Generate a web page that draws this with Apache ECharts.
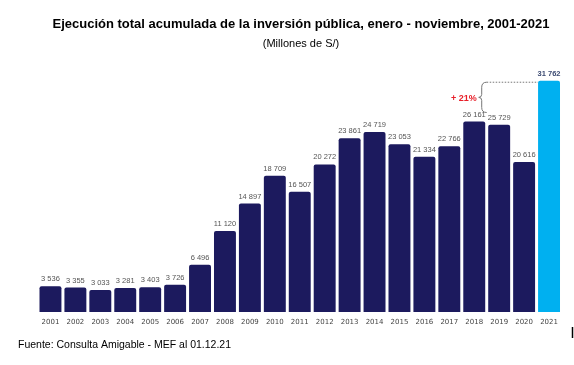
<!DOCTYPE html>
<html><head><meta charset="utf-8">
<script src="https://cdn.jsdelivr.net/npm/echarts@6/dist/echarts.min.js"></script>
<style>html,body{margin:0;padding:0;background:#fff}#c{width:574px;height:365px}</style>
</head><body><div id="c"></div>
<script>
const years = ['2001','2002','2003','2004','2005','2006','2007','2008','2009','2010','2011','2012','2013','2014','2015','2016','2017','2018','2019','2020','2021'];
const values = [3536,3355,3033,3281,3403,3726,6496,11120,14897,18709,16507,20272,23861,24719,23053,21334,22766,26161,25729,20616,31762];
const titleText = 'Ejecución total acumulada de la inversión pública, enero - noviembre, 2001-2021';
const subtitleText = '(Millones de S/)';
const sourceText = 'Fuente: Consulta Amigable - MEF al 01.12.21';
const growthText = '+ 21%';

const fmt = v => String(v).replace(/\B(?=(\d{3})+(?!\d))/g, ' ');
const chart = echarts.init(document.getElementById('c'), null, {renderer:'canvas'});
const data = values.map((v,i) => ({
  value: v,
  itemStyle: {color: i === values.length-1 ? '#00b0f0' : '#1c1a5e'},
  label: i === values.length-1 ? {color:'#3b4a72', fontWeight:'bold'} : undefined
}));
chart.setOption({
  animation:false,
  title:[
    {text:titleText, left:296, top:13, textAlign:'center', textStyle:{fontFamily:'Liberation Sans', fontSize:13, fontWeight:'bold', color:'#000'}},
    {text:subtitleText, left:296, top:33, textAlign:'center', textStyle:{fontFamily:'Liberation Sans', fontSize:11, fontWeight:'normal', color:'#000'}}
  ],
  grid:{left:38, right:12.5, top:79, bottom:53, containLabel:false},
  xAxis:{type:'category', data:years,
    axisLine:{show:false}, axisTick:{show:false},
    axisLabel:{fontFamily:'DejaVu Sans', fontSize:7, color:'#444', margin:7, interval:0}},
  yAxis:{type:'value', min:0, max:32000, show:false, splitLine:{show:false}},
  series:[{type:'bar', data, barCategoryGap:'12%',
    itemStyle:{borderRadius:[2,2,0,0]},
    label:{show:true, position:'top', distance:3, formatter:p=>fmt(p.value), fontFamily:'Liberation Sans', fontSize:7.5, color:'#555'}}]
});

const last = values.length-1;
const pTop = chart.convertToPixel({xAxisIndex:0,yAxisIndex:0},[last, values[last]]);
const p18 = chart.convertToPixel({xAxisIndex:0,yAxisIndex:0},[17, values[17]]);
const p19 = chart.convertToPixel({xAxisIndex:0,yAxisIndex:0},[18, values[18]]);
const catW = p19[0]-p18[0];
const bx = p18[0] + catW*0.5;   // brace x
const y0 = pTop[1] + 1.5;
const y1 = p18[1] - 9;
const ym = (y0+y1)/2;
const xs = bx - 5;
const tip = bx - 8;
const barLeft = pTop[0] - catW*0.44;
const st = {stroke:'#777', lineWidth:1, fill:null};
function q(x1,y1,cx,cy,x2,y2){return {type:'bezierCurve', shape:{x1,y1,x2,y2,cpx1:cx,cpy1:cy}, style:st};}
chart.setOption({graphic:[
  q(bx,y0, xs,y0, xs,y0+5),
  {type:'line', shape:{x1:xs,y1:y0+5,x2:xs,y2:ym-3}, style:st},
  q(xs,ym-3, xs,ym, tip,ym),
  q(tip,ym, xs,ym, xs,ym+3),
  {type:'line', shape:{x1:xs,y1:ym+3,x2:xs,y2:y1-5}, style:st},
  q(xs,y1-5, xs,y1, bx,y1),
  {type:'line', shape:{x1:bx, y1:y0, x2:barLeft, y2:y0}, style:{stroke:'#777', lineWidth:1, lineDash:[1.5,1.5]}},
  {type:'text', x:tip-2, y:ym+1, style:{text:growthText, align:'right', verticalAlign:'middle', fill:'#e8202a', font:'bold 9px "Liberation Sans"'}},
  {type:'text', x:18, y:345, style:{text:sourceText, verticalAlign:'middle', fill:'#000', font:'10.5px "Liberation Sans"'}},
  {type:'line', shape:{x1:572.5, y1:327, x2:572.5, y2:338}, style:{stroke:'#000', lineWidth:1.5}}
]});
</script></body></html>
